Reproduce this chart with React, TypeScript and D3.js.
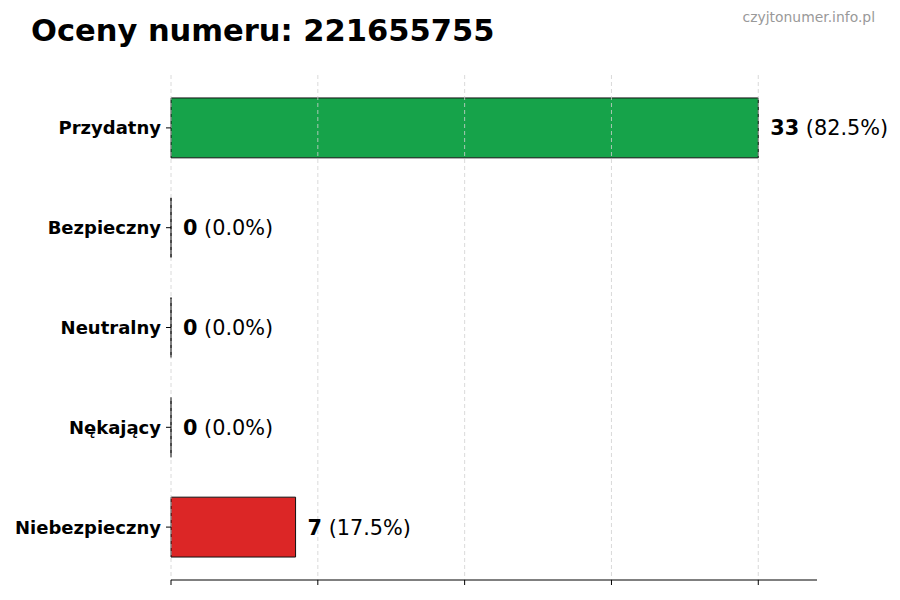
import React from "react";
import * as d3 from "d3";

const categories = ["Przydatny", "Bezpieczny", "Neutralny", "Nękający", "Niebezpieczny"];
const counts = [33, 0, 0, 0, 7];
const percents = ["82.5%", "0.0%", "0.0%", "0.0%", "17.5%"];
const colors = ["#16a34a", "#6b7280", "#3b82f6", "#f59e0b", "#dc2626"];
const tickValues = [0, 8.25, 16.5, 24.75, 33];
const titleText = "Oceny numeru: 221655755";
const watermark = "czyjtonumer.info.pl";

const W = 900;
const H = 600;
const FONT = "'DejaVu Sans', sans-serif";

export default function App() {
  const left = 171, right = 817, top = 75, bottom = 580;
  const maxV = d3.max(counts) as number;
  const x = d3.scaleLinear().domain([0, maxV * 1.1]).range([left, right]);
  const y = d3.scaleLinear().domain([-0.53, categories.length - 1 + 0.53]).range([top, bottom]);
  const barH = (y(1) - y(0)) * 0.6;

  const barPath = (v: number, i: number) => {
    const p = d3.path();
    p.rect(x(0), y(i) - barH / 2, x(v) - x(0), barH);
    return p.toString();
  };

  return (
    <svg width={W} height={H} style={{ position: "absolute", left: 0, top: 0, background: "#fff" }} fontFamily={FONT}>
      <rect x={0} y={0} width={W} height={H} fill="#fff" />
      <text x={31} y={41} fontSize={30.5} fontWeight="bold" fill="#000">{titleText}</text>
      <text x={875} y={22} fontSize={13.9} fill="#999" textAnchor="end">{watermark}</text>

      {counts.map((v, i) => (
        <path key={i} d={barPath(v, i)} fill={colors[i]} stroke="#111" strokeWidth={1} />
      ))}

      {tickValues.map((t, i) => (
        <line key={i} x1={x(t)} x2={x(t)} y1={top} y2={bottom} stroke="#d0d0d0" strokeWidth={0.8} strokeDasharray="4,3" />
      ))}

      <line x1={left} x2={right} y1={bottom} y2={bottom} stroke="#000" strokeWidth={1} />
      {tickValues.map((t, i) => (
        <line key={i} x1={x(t)} x2={x(t)} y1={bottom} y2={bottom + 5} stroke="#000" strokeWidth={1} />
      ))}

      {categories.map((c, i) => (
        <g key={c}>
          <line x1={left - 5} x2={left} y1={y(i)} y2={y(i)} stroke="#000" strokeWidth={1} />
          <text x={left - 10} y={y(i)} dy="0.36em" fontSize={18} fontWeight="bold" textAnchor="end" fill="#000">{c}</text>
          <text x={x(counts[i]) + 12} y={y(i)} dy="0.36em" fontSize={20.8} fill="#000">
            <tspan fontWeight="bold">{counts[i]}</tspan>
            <tspan> ({percents[i]})</tspan>
          </text>
        </g>
      ))}
    </svg>
  );
}
